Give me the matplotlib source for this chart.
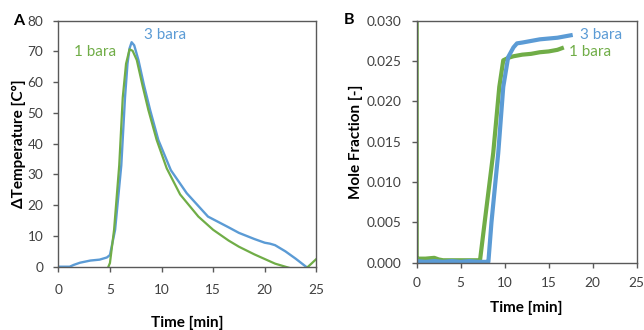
import matplotlib as mpl
mpl.use('Agg')
import numpy as np
import matplotlib.pyplot as plt

plt.rcParams['font.family'] = ['Lato', 'DejaVu Sans']

# Panel A: temperature rise vs time
t_a_3bar = [0.0, 1.1, 1.5, 2.1, 3.1, 4.0, 4.7, 5.0, 5.5, 6.1, 6.46, 6.7, 6.9, 7.1, 7.35, 7.76, 8.3, 8.89,
            9.69, 10.9, 12.44, 14.5, 16.5, 17.5, 19.0, 20.0, 20.5, 21.0, 22.0, 23.0, 24.0, 25.0]
dT_3bar = [0.0, 0.0, 0.6, 1.3, 2.0, 2.3, 3.0, 3.8, 12.0, 33.0, 55.0, 66.0, 71.0, 73.0, 72.0, 67.2, 59.0, 51.0,
           41.2, 31.4, 23.9, 16.3, 12.8, 11.0, 9.0, 7.8, 7.5, 7.0, 5.0, 2.6, 0.0, -1.5]

t_a_1bar = [4.7, 4.85, 5.0, 5.4, 5.9, 6.24, 6.56, 6.9, 7.2, 7.6, 8.15, 8.72, 9.53, 10.5, 11.8, 13.57, 15.0,
            16.5, 17.5, 19.0, 20.0, 21.0, 22.0, 23.0, 24.0, 24.2, 25.0]
dT_1bar = [-3.0, 0.0, 1.2, 12.0, 33.0, 55.0, 66.0, 70.7, 70.2, 67.2, 59.0, 51.0, 41.2, 32.0, 23.5, 16.3, 12.0,
           8.5, 6.5, 4.0, 2.5, 1.0, 0.0, -1.0, -0.5, 0.0, 2.5]

# Panel B: mole fraction vs time
t_b_3bar = [0.0, 1.0, 2.0, 3.0, 4.0, 5.0, 6.0, 7.0, 8.0, 8.15, 8.5, 9.27, 9.84, 10.4, 11.0, 11.4,
            12.0, 13.0, 14.0, 15.0, 16.0, 17.0, 17.5]
x_3bar = [0.0002, 0.0001, 0.0002, 0.0001, 0.0002, 0.0001, 0.0002, 0.0001, 0.0001, 0.0001, 0.005, 0.0136,
          0.0218, 0.0255, 0.0267, 0.0272, 0.0273, 0.0275, 0.0277, 0.0278, 0.0279, 0.0281, 0.0282]

t_b_1bar = [0.0, 0.0, 0.05, 1.0, 2.0, 2.5, 3.0, 4.0, 5.0, 6.0, 7.0, 7.2, 7.76, 8.7, 9.39, 9.84, 10.4,
            11.0, 12.0, 13.0, 14.0, 15.0, 16.0, 16.5]
x_1bar = [0.030, 0.0004, 0.0005, 0.0005, 0.0006, 0.0004, 0.0003, 0.0003, 0.0003, 0.0003, 0.0003, 0.0003,
          0.0053, 0.0136, 0.0218, 0.0251, 0.0254, 0.0256, 0.0258, 0.0259, 0.0261, 0.0262, 0.0264, 0.0266]

blue = '#5b9bd5'
green = '#70ad47'
spine_col = '#595959'
tick_col = '#404040'

fig = plt.figure(figsize=(6.44, 3.30), dpi=100)
ax1 = fig.add_axes([0.0906, 0.1918, 0.4006, 0.7455])
ax2 = fig.add_axes([0.647, 0.204, 0.3416, 0.733])

ax1.plot(t_a_3bar, dT_3bar, color=blue, linewidth=1.7)
ax1.plot(t_a_1bar, dT_1bar, color=green, linewidth=1.6)
ax1.set_xlim(0, 25)
ax1.set_ylim(0, 80)
ax1.set_xticks(np.arange(0, 26, 5))
ax1.set_yticks(np.arange(0, 81, 10))
ax1.set_xlabel('Time [min]', fontsize=11, fontweight='bold')
ax1.set_ylabel('ΔTemperature [C°]', fontsize=11, fontweight='bold')
ax1.xaxis.set_label_coords(0.5, -0.199)
ax1.yaxis.set_label_coords(-0.125, 0.5)
ax1.tick_params(axis='x', pad=8.6)
ax1.text(3.6, 69.9, '1 bara', color=green, fontsize=11, ha='center', va='center')
ax1.text(10.3, 75.3, '3 bara', color=blue, fontsize=11, ha='center', va='center')
fig.text(0.0295, 0.936, 'A', fontsize=11.5, fontweight='bold', ha='center', va='center')

ax2.plot(t_b_1bar, x_1bar, color=green, linewidth=3.0)
ax2.plot(t_b_3bar, x_3bar, color=blue, linewidth=3.0)
ax2.plot(t_b_1bar[:2], x_1bar[:2], color=green, linewidth=1.2)
ax2.set_xlim(0, 25)
ax2.set_ylim(0, 0.030)
ax2.set_xticks(np.arange(0, 26, 5))
ax2.set_yticks(np.arange(0, 0.0301, 0.005))
ax2.yaxis.set_major_formatter(mpl.ticker.FormatStrFormatter('%.3f'))
ax2.set_xlabel('Time [min]', fontsize=11, fontweight='bold')
ax2.set_ylabel('Mole Fraction [-]', fontsize=11, fontweight='bold')
ax2.xaxis.set_label_coords(0.5, -0.157)
ax2.yaxis.set_label_coords(-0.245, 0.5)
ax2.tick_params(axis='x', pad=6.8)
ax2.text(21.0, 0.02823, '3 bara', color=blue, fontsize=11, ha='center', va='center')
ax2.text(19.7, 0.02616, '1 bara', color=green, fontsize=11, ha='center', va='center')
fig.text(0.5427, 0.938, 'B', fontsize=11.5, fontweight='bold', ha='center', va='center')

for ax in (ax1, ax2):
    for s in ax.spines.values():
        s.set_color(spine_col)
        s.set_linewidth(1.0)
    ax.tick_params(direction='out', length=3.6, width=1, color=spine_col, labelcolor=tick_col, labelsize=9.8)
    ax.tick_params(axis='y', pad=7.2)

plt.savefig('out.png', dpi=100)
